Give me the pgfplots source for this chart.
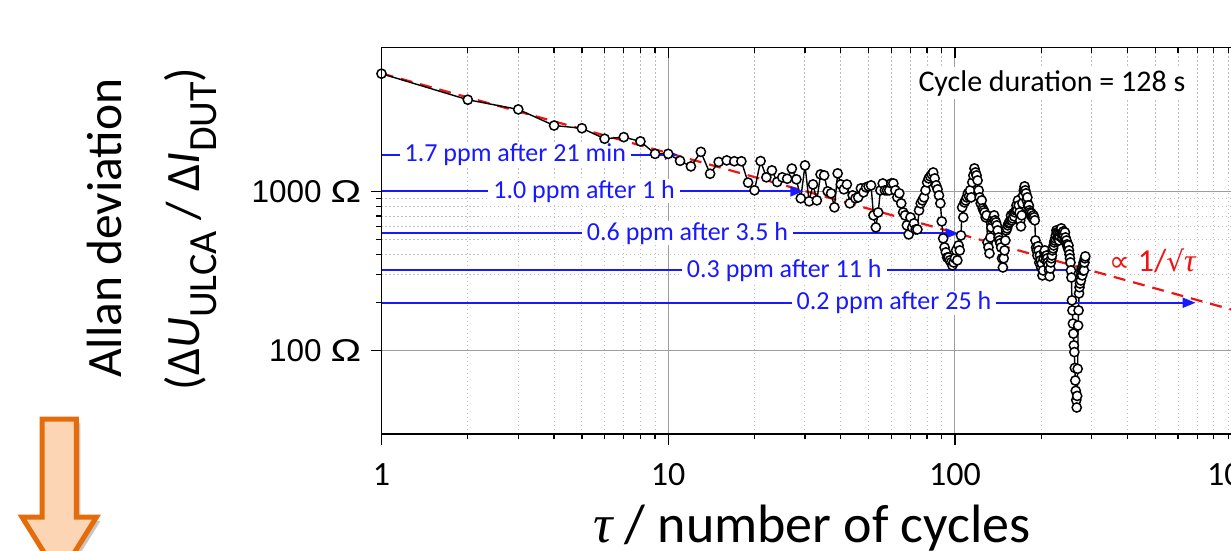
\documentclass[border=0pt]{standalone}
\usepackage{pgfplots}
\pgfplotsset{compat=1.18}
\usepackage{fontspec}
\setmainfont{Carlito}
\newfontfamily\arialf{Liberation Sans}
\newfontfamily\libserif{Liberation Serif}
\newfontfamily\dejavu{DejaVu Sans}
\usetikzlibrary{arrows.meta}
\definecolor{annblue}{RGB}{25,25,255}
\definecolor{annred}{RGB}{240,20,20}
\definecolor{oranged}{RGB}{228,108,10}
\definecolor{peach}{RGB}{252,213,181}

\pgfplotstableread{
tau val
1 5480
2 3760
3 3270
4 2590
5 2490
6 2140
7 2190
8 2060
9 1720
10 1720
11 1555
12 1435
13 1770
14 1290
15 1530
16 1565
17 1545
18 1545
19 1135
20 1015
21 1550
22 1225
23 1355
24 1145
25 1225
26 1200
27 1390
28 1190
29 904
30 1456
31 866
32 1106
33 878
34 1278
35 1260
36 1000
37 972
38 794
39 1297
40 1106
41 1030
42 1106
43 841
44 944
45 904
46 917
47 1044
48 986
49 1060
50 1075
51 1091
52 707
53 594
54 738
55 1015
56 1122
57 1015
58 1015
59 1015
60 1122
61 1122
62 1015
63 917
64 972
65 841
66 738
67 707
68 612
69 537
70 687
71 594
72 630
73 577
74 577
75 760
76 841
77 878
78 917
79 1015
80 1139
81 1206
82 1242
83 1278
84 1315
85 1206
86 1091
87 1030
88 944
89 841
90 648
91 507
92 445
93 414
94 385
95 385
96 369
97 358
98 343
99 358
100 380
101 426
102 369
103 458
104 426
105 529
106 794
107 687
108 853
109 878
110 917
111 972
112 931
113 1015
114 917
115 1139
116 1260
117 1394
118 1315
119 1260
120 1172
121 1015
122 917
123 841
124 878
125 782
126 760
127 738
128 687
129 707
130 478
131 445
132 408
133 514
134 594
135 658
136 677
137 707
138 658
139 639
140 612
141 569
142 514
143 492
144 472
145 445
146 380
147 333
148 380
149 426
150 492
151 569
152 586
153 612
154 630
155 639
156 658
157 707
158 658
159 677
160 728
161 697
162 738
163 760
164 817
165 760
166 878
167 817
168 738
169 658
170 603
171 707
172 841
173 944
174 1015
175 1075
176 1015
177 972
178 878
179 917
180 817
181 817
182 760
183 738
184 707
185 728
186 697
187 677
188 707
189 687
190 658
191 492
192 445
193 426
194 396
195 452
196 426
197 358
198 396
199 369
200 333
201 353
202 297
203 319
204 380
205 414
206 426
207 391
208 369
209 396
210 380
211 358
212 343
213 319
214 293
215 328
216 358
217 380
218 396
219 426
220 439
221 458
222 478
223 492
224 507
225 529
226 569
227 553
228 514
229 545
230 522
231 492
232 522
233 553
234 577
235 586
236 545
237 507
238 537
239 561
240 529
241 492
242 553
243 514
244 478
245 492
246 465
247 452
248 439
249 458
250 426
251 402
252 380
253 358
254 319
255 288
256 207
257 179
258 148
259 128
260 108
261 98
262 78
263 65
264 56
265 49
266 44
267 52
268 77
269 144
270 179
271 229
272 250
273 264
274 288
275 276
276 310
277 328
278 297
279 319
280 343
281 358
282 319
283 358
284 380
285 391
}\allandata

\newcommand{\ohm}{\scalebox{1.3}[1]{Ω}}

\begin{document}
\begin{tikzpicture}[x=1pt,y=1pt]
% orange arrow (decoration, lower left)
\fill[black, opacity=0.22] (-335.3,11) -- (-301,11) -- (-301,-87) -- (-281,-87) -- (-318.2,-147) -- (-355.5,-87) -- (-335.3,-87) -- cycle;
\draw[oranged, line width=5pt, fill=peach, line join=miter] (-339.3,15) -- (-305,15) -- (-305,-83) -- (-285,-83) -- (-322.2,-143) -- (-359.5,-83) -- (-339.3,-83) -- cycle;

\begin{axis}[
  at={(0,0)}, anchor=south west, scale only axis,
  width=860.1pt, height=386.5pt,
  xmode=log, ymode=log,
  xmin=1, xmax=1000, ymin=30, ymax=8000,
  xtick={1,10,100,1000}, xticklabels={1,10,100,1000},
  ytick={100,1000}, yticklabels={100\hspace{9pt}\ohm,1000\hspace{9pt}\ohm},
  xtick pos=left, ytick pos=left,
  tick align=outside,
  major tick length=11pt, minor tick length=5.5pt,
  every tick/.style={black, line width=1.3pt},
  axis line style={black, line width=1.8pt},
  grid=both,
  major grid style={draw=black!38, line width=1pt, solid},
  minor grid style={draw=black!25, line width=1pt, dash pattern=on 1.5pt off 2.5pt},
  xticklabel style={font=\fontsize{34}{40}\selectfont, inner sep=0pt, anchor=base, yshift=-41pt},
  yticklabel style={font=\arialf\fontsize{31.5}{36}\selectfont, inner sep=0pt, anchor=east, xshift=-9pt},
  clip=false,
]
\addplot[annred, line width=2.2pt, dash pattern=on 12pt off 8pt] coordinates {(1,5500) (1000,174)};
\addplot[black, line width=1.4pt, mark=*, mark size=4.6pt,
  mark options={fill=white, draw=black, line width=1.5pt, solid}] table[x=tau, y=val] {\allandata};

\begin{scope}[annblue, line width=2pt, -{Triangle[length=13pt,width=10pt]}]
\draw (axis cs:1,1700) -- (axis cs:10.8,1700);
\draw (axis cs:1,1000) -- (axis cs:29.6,1000);
\draw (axis cs:1,545) -- (axis cs:103,545);
\draw (axis cs:1,319) -- (axis cs:299,319);
\draw (axis cs:1,200) -- (axis cs:691,200);
\end{scope}
\begin{scope}[every node/.style={fill=white, text=annblue, inner xsep=5pt, inner ysep=1pt, font=\fontsize{26}{30}\selectfont}]
\node at (axis cs:2.93,1700) {1.7 ppm after 21 min};
\node at (axis cs:5.09,1000) {1.0 ppm after 1 h};
\node at (axis cs:11.68,545) {0.6 ppm after 3.5 h};
\node at (axis cs:25.4,319) {0.3 ppm after 11 h};
\node at (axis cs:61.3,200) {0.2 ppm after 25 h};
\end{scope}
\node[fill=white, inner sep=3pt, font=\fontsize{30}{34}\selectfont] at (axis cs:218,4770) {Cycle duration = 128 s};
\node[text=annred, inner sep=1pt, font=\fontsize{32}{36}\selectfont] at (axis cs:490,365) {{\dejavu\fontsize{29}{32}\selectfont ∝} 1/{\dejavu\fontsize{28}{32}\selectfont √}{\libserif\itshape τ}};
\end{axis}

\begin{axis}[
  at={(0,0)}, anchor=south west, scale only axis,
  width=860.1pt, height=386.5pt,
  xmode=log, ymode=log,
  xmin=1, xmax=1000, ymin=30, ymax=8000,
  xtick={1,10,100,1000}, ytick={100,1000},
  xticklabels={}, yticklabels={},
  xtick pos=right, ytick pos=right,
  tick align=inside,
  major tick length=11pt, minor tick length=5.5pt,
  every tick/.style={black, line width=1.3pt},
  axis line style={black, line width=1.8pt},
]
\addplot[draw=none] coordinates {(2,200)};
\end{axis}

\node[rotate=90, anchor=base, font=\fontsize{49.5}{56}\selectfont] at (-259.5,206) {Allan deviation};
\node[rotate=90, anchor=base, font=\fontsize{48}{56}\selectfont] at (-181.5,205)
  {(Δ\textit{U}\raisebox{-17pt}{\fontsize{40}{44}\selectfont ULCA} / Δ\textit{I}\raisebox{-17pt}{\fontsize{40}{44}\selectfont DUT})};
\node[anchor=base, font=\fontsize{54}{60}\selectfont] at (430.5,-108) {{\libserif\itshape τ} / number of cycles};

\pgfresetboundingbox
\path[use as bounding box] (-381.5,-116) rectangle (849.5,434);
\end{tikzpicture}
\end{document}
